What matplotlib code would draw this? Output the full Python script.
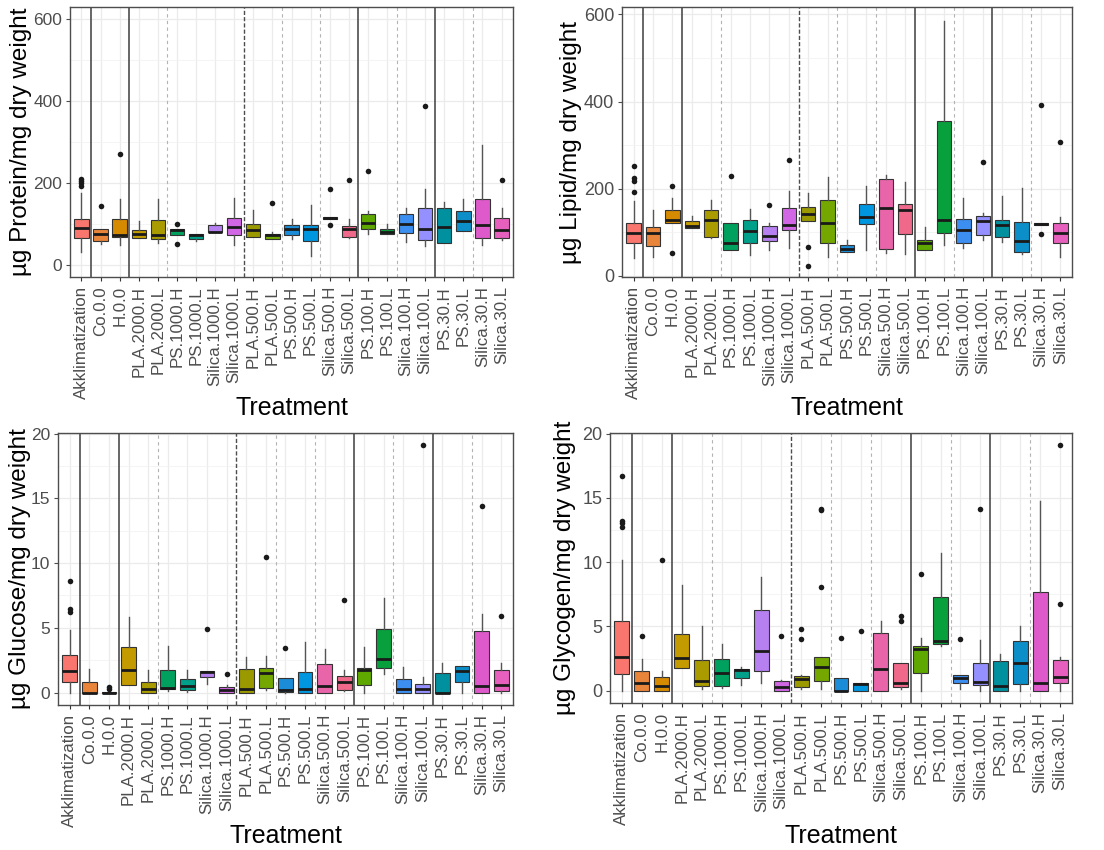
import matplotlib
matplotlib.use("Agg")
import matplotlib.pyplot as plt
from matplotlib.ticker import MultipleLocator

plt.rcParams['font.family'] = ['Liberation Sans', 'DejaVu Sans']

treatments = ['Akklimatization', 'Co.0.0', 'H.0.0', 'PLA.2000.H', 'PLA.2000.L',
              'PS.1000.H', 'PS.1000.L', 'Silica.1000.H', 'Silica.1000.L',
              'PLA.500.H', 'PLA.500.L', 'PS.500.H', 'PS.500.L',
              'Silica.500.H', 'Silica.500.L', 'PS.100.H', 'PS.100.L',
              'Silica.100.H', 'Silica.100.L', 'PS.30.H', 'PS.30.L',
              'Silica.30.H', 'Silica.30.L']

fills = ['#F8766D', '#E8853A', '#D68A00', '#C39A00', '#AA9C00', '#00A15E',
         '#00A08A', '#B680F0', '#D267E6', '#9A9A00', '#74A800', '#1A8CD8',
         '#0096E0', '#E865AA', '#F0688A', '#5FA800', '#07A03C', '#3C8EF0',
         '#9490FF', '#00909E', '#0C8FC8', '#DE5ACB', '#E860BE']

# (lower whisker, Q1, median, Q3, upper whisker) per treatment
protein_box = [(32, 66, 90, 111, 176), (50, 57, 76, 88, 88), (49, 68, 72, 111, 161),
               (65, 66, 76, 84, 107), (52, 62, 72, 109, 160), (72, 72, 84, 87, 87),
               (58, 62, 73, 75, 75), (79, 79, 81, 96, 103), (48, 72, 92, 115, 164),
               (68, 68, 84, 99, 134), (62, 62, 72, 75, 79), (62, 72, 87, 96, 111),
               (22, 58, 88, 96, 145), (111, 111, 114, 117, 117), (66, 69, 87, 95, 113),
               (75, 88, 101, 123, 131), (75, 75, 79, 88, 99), (56, 77, 100, 123, 139),
               (46, 61, 87, 139, 186), (54, 54, 93, 139, 154), (83, 83, 107, 131, 160),
               (48, 66, 98, 161, 293), (61, 66, 84, 115, 139)]
protein_out = [[192, 200, 205, 210], [144], [271], [], [], [100, 50], [], [], [],
               [], [152], [], [], [184, 96], [208], [230], [], [], [389],
               [], [], [], [207]]

lipid_box = [(40, 76, 99, 122, 171), (42, 68, 99, 112, 152), (121, 121, 127, 152, 178),
             (109, 109, 114, 126, 137), (87, 89, 127, 152, 174), (58, 58, 74, 121, 121),
             (48, 74, 103, 127, 154), (58, 80, 92, 114, 120), (63, 105, 116, 156, 194),
             (126, 126, 141, 158, 190), (44, 74, 121, 173, 226), (54, 54, 61, 70, 83),
             (59, 118, 135, 164, 207), (53, 61, 156, 221, 232), (50, 96, 152, 165, 215),
             (58, 58, 74, 83, 112), (70, 97, 127, 355, 585), (63, 76, 105, 130, 179),
             (83, 93, 126, 136, 143), (77, 88, 116, 127, 183), (50, 55, 80, 124, 201),
             (117, 117, 119, 121, 121), (42, 74, 99, 120, 135)]
lipid_out = [[251, 224, 217, 192], [], [207, 53], [], [], [228], [], [163], [266],
             [67, 23], [], [], [], [], [], [], [], [], [260],
             [], [], [391, 95], [308]]

glucose_box = [(0, 0.83, 1.69, 2.91, 4.86), (0, 0, 0, 0.83, 1.82), (0, 0, 0, 0.05, 0.05),
               (0.57, 0.57, 1.74, 3.5, 5.82), (0, 0, 0.31, 0.83, 1.74), (0.1, 0.31, 0.36, 1.74, 3.56),
               (0.05, 0.23, 0.52, 1.04, 1.74), (0.7, 1.22, 1.61, 1.69, 1.69), (0, 0, 0.18, 0.44, 0.57),
               (0, 0, 0.31, 1.82, 2.78), (0.18, 0.36, 1.48, 1.92, 2.86), (0, 0.05, 0.18, 1.09, 1.09),
               (0, 0, 0.26, 1.61, 3.87), (0, 0, 0.52, 2.2, 3.38), (0.1, 0.18, 0.78, 1.27, 1.74),
               (0, 0.62, 1.74, 1.87, 3.51), (1.4, 1.92, 2.57, 4.94, 7.27), (0, 0, 0.31, 1.04, 1.95),
               (0, 0, 0.31, 0.7, 1.17), (0, 0, 0, 1.48, 2.31), (0, 0.78, 1.66, 2.05, 2.05),
               (0, 0, 0.52, 4.78, 6.1), (0, 0.1, 0.57, 1.74, 2.31)]
glucose_out = [[8.62, 6.42, 6.23], [], [0.25, 0.4], [], [], [], [], [4.94], [1.43],
               [], [10.5], [3.43], [], [], [7.12], [], [], [], [19.14],
               [], [], [14.39], [5.9]]

glycogen_box = [(0, 1.27, 2.6, 5.43, 10.18), (0, 0, 0.57, 1.56, 2.47), (0, 0, 0.39, 1.09, 1.56),
                (1.74, 1.74, 2.57, 4.39, 8.23), (0.1, 0.39, 0.78, 2.39, 5.06), (0.18, 0.39, 1.35, 2.47, 3.61),
                (0.44, 1.01, 1.61, 1.69, 1.87), (0.57, 1.56, 3.09, 6.29, 8.83), (0, 0, 0.31, 0.75, 0.83),
                (0.1, 0.31, 0.88, 1.14, 1.22), (0.1, 0.75, 1.87, 2.6, 2.6), (0, 0, 0, 1.01, 1.01),
                (0, 0, 0.49, 0.57, 0.57), (0, 0, 1.66, 4.52, 5.43), (0.1, 0.26, 0.62, 2.18, 2.18),
                (0, 1.35, 3.22, 3.48, 4.08), (3.5, 3.61, 3.87, 7.27, 10.75), (0.1, 0.57, 0.96, 1.22, 1.22),
                (0, 0.44, 0.65, 2.13, 3.95), (0, 0, 0.39, 2.31, 2.86), (0, 0.52, 2.13, 3.87, 5.06),
                (0, 0, 0.57, 7.71, 14.73), (0, 0.57, 1.04, 2.39, 2.6)]
glycogen_out = [[16.73, 13.22, 13.04, 12.7], [4.29], [10.13], [], [], [], [], [], [4.26],
                [4.78, 4.03], [14.13, 14.05, 8.03], [4.08], [4.65], [], [5.84, 5.43],
                [9.09], [], [4.03], [14.16], [], [], [], [6.73, 19.14]]

# separators between treatment groups
solid_seps = [1.5, 3.5, 15.5, 19.5]
dark_dashed_seps = [9.5]
light_dashed_seps = [5.5, 11.5, 13.5, 17.5, 21.5]

panels = [
    # stats, outliers, ylabel, ylim, major step, minor step,
    # axes box in px (left, top, right, bottom), ylabel x px, xlabel y px, y tick size
    (protein_box, protein_out, 'µg Protein/mg dry weight', (-30, 630), 200, 100,
     (70, 7, 513, 277), 21, 408, 12.5),
    (lipid_box, lipid_out, 'µg Lipid/mg dry weight', (-3, 617), 200, 100,
     (622, 7, 1072, 277), 571, 408, 13),
    (glucose_box, glucose_out, 'µg Glucose/mg dry weight', (-0.96, 20.05), 5, 2.5,
     (58, 433, 513, 705), 20, 836, 12.5),
    (glycogen_box, glycogen_out, 'µg Glycogen/mg dry weight', (-0.96, 20.05), 5, 2.5,
     (610, 433, 1072, 703), 565, 836, 13),
]

W, H = 1104, 850
fig = plt.figure(figsize=(W / 100, H / 100), dpi=100)

for stats, outs, ylab, ylim, major, minor, (l, t, r, b), ylab_x, xlab_y, ysize in panels:
    ax = fig.add_axes([l / W, 1 - b / H, (r - l) / W, (b - t) / H])
    bxp_stats = []
    for (lo, q1, med, q3, hi), fl in zip(stats, outs):
        bxp_stats.append(dict(whislo=lo, q1=q1, med=med, q3=q3, whishi=hi, fliers=fl))
    pos = list(range(1, len(treatments) + 1))
    bp = ax.bxp(bxp_stats, positions=pos, widths=0.75, patch_artist=True,
                showcaps=False, manage_ticks=False,
                boxprops=dict(edgecolor='#333333', linewidth=0.8),
                medianprops=dict(color='#1a1a1a', linewidth=2.0),
                whiskerprops=dict(color='#555555', linewidth=1.0),
                flierprops=dict(marker='o', markersize=4, markerfacecolor='#1a1a1a',
                                markeredgecolor='none'))
    for patch, c in zip(bp['boxes'], fills):
        patch.set_facecolor(c)
        patch.set_zorder(3)
    for key in ('medians', 'whiskers', 'fliers'):
        for art in bp[key]:
            art.set_zorder(3)

    for x in solid_seps:
        ax.axvline(x, color='#4d4d4d', lw=1.2, zorder=2)
    for x in dark_dashed_seps:
        ax.axvline(x, color='#4d4d4d', lw=1.0, ls=(0, (3, 1.5)), zorder=2)
    for x in light_dashed_seps:
        ax.axvline(x, color='#b3b3b3', lw=0.8, ls=(0, (3, 3)), zorder=2)

    ax.set_xlim(0.4, len(treatments) + 0.6)
    ax.set_ylim(*ylim)
    ax.set_xticks(pos)
    ax.set_xticklabels(treatments, rotation=90, fontsize=12.2, color='#4d4d4d')
    ax.yaxis.set_major_locator(MultipleLocator(major))
    ax.yaxis.set_minor_locator(MultipleLocator(minor))
    ax.tick_params(axis='y', labelsize=ysize, colors='#4d4d4d', length=3, width=0.8, pad=2.5)
    ax.tick_params(axis='x', length=3, width=0.8, colors='#333333', labelcolor='#4d4d4d')
    ax.tick_params(which='minor', length=0)
    ax.grid(True, which='major', color='#ebebeb', lw=0.9, zorder=0)
    ax.grid(True, which='minor', axis='y', color='#f2f2f2', lw=0.6, zorder=0)
    ax.set_axisbelow(True)
    for sp in ax.spines.values():
        sp.set_color('#4d4d4d')
        sp.set_linewidth(1.0)

    ax.set_ylabel(ylab, fontsize=17.5, color='black')
    ax.yaxis.set_label_coords((ylab_x - l) / (r - l), 0.5)
    ax.yaxis.label.set_va('center')
    ax.set_xlabel('Treatment', fontsize=18, color='black')
    ax.xaxis.set_label_coords(0.5, (b - xlab_y) / (b - t))
    ax.xaxis.label.set_va('center')

fig.savefig('out.png', dpi=100)
